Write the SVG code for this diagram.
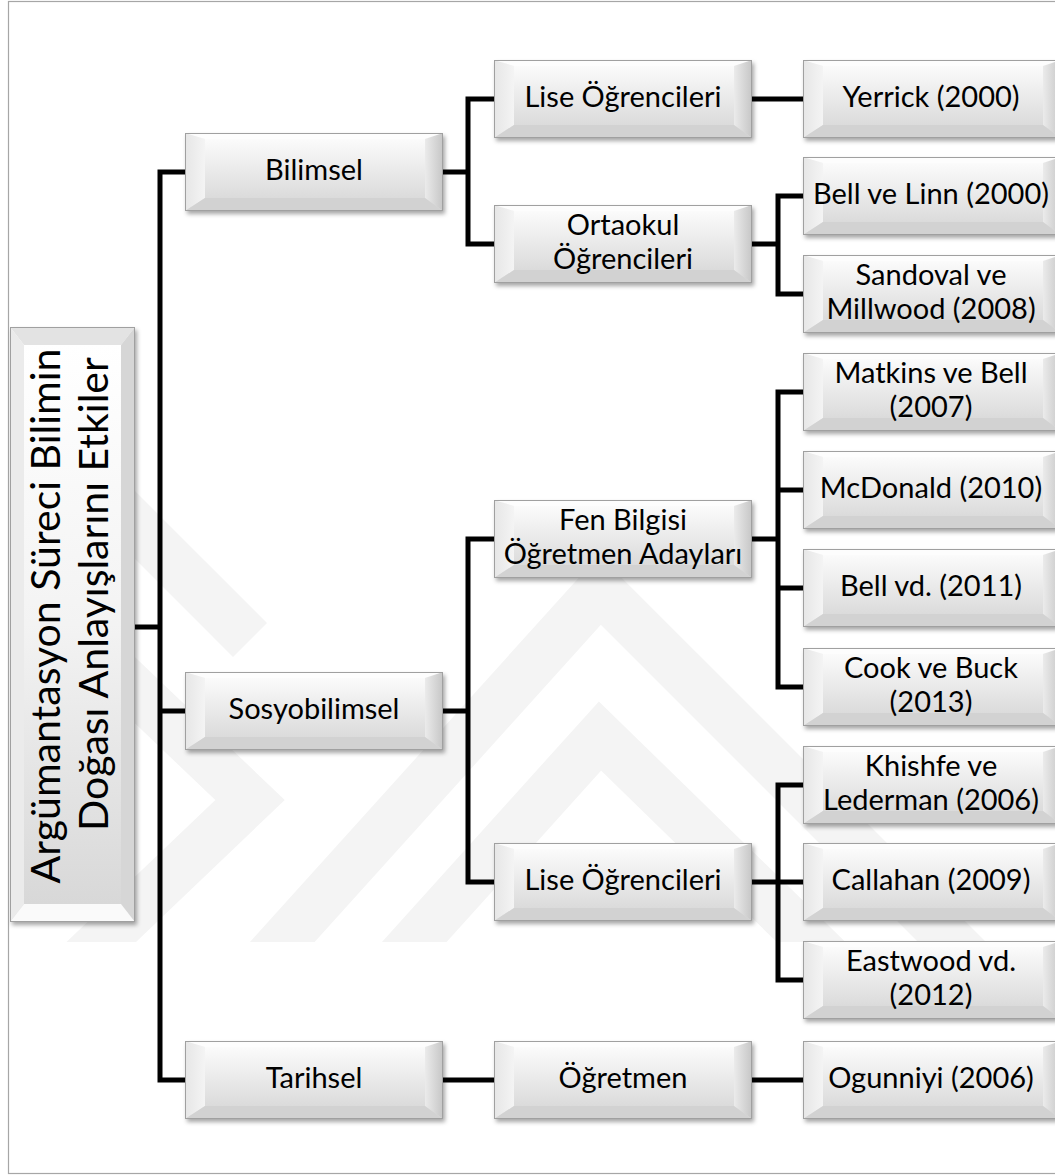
<svg xmlns="http://www.w3.org/2000/svg" xmlns:xlink="http://www.w3.org/1999/xlink" width="1055" height="1175" viewBox="0 0 1055 1175">
  <style>
    .lbl { font-family: Lato, "Open Sans", "DejaVu Sans", sans-serif; font-size: 29px; fill: #000; text-anchor: middle; }
    .root { font-family: Lato, "Open Sans", "DejaVu Sans", sans-serif; font-size: 41px; fill: #000; text-anchor: middle; }
    .wire { fill: none; stroke: #000; stroke-width: 5; stroke-linejoin: miter; stroke-linecap: butt; }
    .mark { fill: none; stroke: #f4f4f4; stroke-width: 48; stroke-linejoin: miter; }
  </style>
  <defs>
    <linearGradient id="face" x1="0" y1="0" x2="0" y2="1">
      <stop offset="0" stop-color="#fbfbfb"/>
      <stop offset="1" stop-color="#dbdbdb"/>
    </linearGradient>
    <linearGradient id="rbev" x1="0" y1="0" x2="1" y2="0">
      <stop offset="0" stop-color="#ebebeb"/>
      <stop offset="1" stop-color="#c6c6c6"/>
    </linearGradient>
    <linearGradient id="lbev" x1="0" y1="0" x2="1" y2="0">
      <stop offset="0" stop-color="#e6e6e6"/>
      <stop offset="1" stop-color="#f4f4f4"/>
    </linearGradient>
    <linearGradient id="rootface" x1="0" y1="0" x2="0" y2="1">
      <stop offset="0" stop-color="#ffffff"/>
      <stop offset="0.5" stop-color="#f3f3f3"/>
      <stop offset="1" stop-color="#d8d8d8"/>
    </linearGradient>
    <filter id="shadow" x="-10%" y="-10%" width="125%" height="130%">
      <feDropShadow dx="2" dy="3" stdDeviation="2" flood-color="#000" flood-opacity="0.35"/>
    </filter>
    <clipPath id="markclip">
      <rect x="10" y="380" width="1000" height="562"/>
    </clipPath>
    <!-- bevelled box, 258 x 78 -->
    <g id="bx">
      <rect x="0" y="0" width="258" height="78" fill="url(#face)" filter="url(#shadow)"/>
      <polygon points="0,0 258,0 240,6 20,6" fill="#fdfdfd"/>
      <polygon points="0,0 20,6 20,65 0,78" fill="url(#lbev)"/>
      <polygon points="258,0 258,78 240,65 240,6" fill="url(#rbev)"/>
      <polygon points="0,78 20,65 240,65 258,78" fill="#d2d2d2"/>
      <rect x="20" y="6" width="220" height="59" fill="url(#face)"/>
      <rect x="0.5" y="0.5" width="257" height="77" fill="none" stroke="#a0a0a0" stroke-width="1"/>
    </g>
  </defs>

  <rect x="0" y="0" width="1055" height="1175" fill="#fff"/>
  <!-- faint background emblem -->
  <g id="emblem" clip-path="url(#markclip)">
    <path class="mark" d="M248 980 L600 590 L990 980"/>
    <path class="mark" d="M380 980 L600 736 L850 980"/>
    <path class="mark" d="M30 590 L250 800 L30 1010"/>
    <path class="mark" d="M30 420 L250 640"/>
  </g>
  <!-- outer frame -->
  <rect x="8.5" y="1.5" width="1100" height="1172" fill="none" stroke="#a6a6a6" stroke-width="1.2"/>

  <!-- connectors -->
  <g id="connectors">
    <path class="wire" d="M135 627 H160"/>
    <path class="wire" d="M185 172 H160 V1080 H185 M160 711 H185"/>
    <path class="wire" d="M443 172 H468 M494 99 H468 V244 H494"/>
    <path class="wire" d="M443 711 H468 M494 539 H468 V882 H494"/>
    <path class="wire" d="M443 1080 H494"/>
    <path class="wire" d="M752 99 H803"/>
    <path class="wire" d="M752 244 H778 M803 196 H778 V294 H803"/>
    <path class="wire" d="M752 539 H778 M803 392 H778 V687 H803 M778 490 H803 M778 588 H803"/>
    <path class="wire" d="M752 882 H803 M803 785 H778 V980 H803"/>
    <path class="wire" d="M752 1080 H803"/>
  </g>

  <!-- root -->
  <g id="root">
    <rect x="10" y="327" width="125" height="595" fill="url(#rootface)" filter="url(#shadow)"/>
    <polygon points="10,327 135,327 121,345 24,345" fill="#e3e3e3"/>
    <polygon points="10,327 24,345 24,904 10,922" fill="#ebebeb"/>
    <polygon points="135,327 135,922 121,904 121,345" fill="#d6d6d6"/>
    <polygon points="10,922 24,904 121,904 135,922" fill="#fafafa"/>
    <rect x="24" y="345" width="97" height="559" fill="url(#rootface)"/>
    <rect x="10.5" y="327.5" width="124" height="594" fill="none" stroke="#a0a0a0"/>
    <text class="root" transform="translate(60 616) rotate(-90)">Argümantasyon Süreci Bilimin</text>
    <text class="root" transform="translate(108 594) rotate(-90)">Doğası Anlayışlarını Etkiler</text>
  </g>

  <!-- level 1 -->
  <g id="bilimsel"><use href="#bx" x="185" y="133"/><text class="lbl" x="314" y="180">Bilimsel</text></g>
  <g id="sosyobilimsel"><use href="#bx" x="185" y="672"/><text class="lbl" x="314" y="719">Sosyobilimsel</text></g>
  <g id="tarihsel"><use href="#bx" x="185" y="1041"/><text class="lbl" x="314" y="1088">Tarihsel</text></g>

  <!-- level 2 -->
  <g id="lise-1"><use href="#bx" x="494" y="60"/><text class="lbl" x="623" y="107">Lise Öğrencileri</text></g>
  <g id="ortaokul"><use href="#bx" x="494" y="205"/><text class="lbl" x="623" y="235">Ortaokul</text><text class="lbl" x="623" y="269">Öğrencileri</text></g>
  <g id="fen-bilgisi"><use href="#bx" x="494" y="500"/><text class="lbl" x="623" y="530">Fen Bilgisi</text><text class="lbl" x="623" y="564">Öğretmen Adayları</text></g>
  <g id="lise-2"><use href="#bx" x="494" y="843"/><text class="lbl" x="623" y="890">Lise Öğrencileri</text></g>
  <g id="ogretmen"><use href="#bx" x="494" y="1041"/><text class="lbl" x="623" y="1088">Öğretmen</text></g>

  <!-- level 3 -->
  <g id="yerrick"><use href="#bx" x="803" y="60"/><text class="lbl" x="931" y="107">Yerrick (2000)</text></g>
  <g id="bell-linn"><use href="#bx" x="803" y="157"/><text class="lbl" x="931" y="204">Bell ve Linn (2000)</text></g>
  <g id="sandoval"><use href="#bx" x="803" y="255"/><text class="lbl" x="931" y="285">Sandoval ve</text><text class="lbl" x="931" y="319">Millwood (2008)</text></g>
  <g id="matkins"><use href="#bx" x="803" y="353"/><text class="lbl" x="931" y="383">Matkins ve Bell</text><text class="lbl" x="931" y="417">(2007)</text></g>
  <g id="mcdonald"><use href="#bx" x="803" y="451"/><text class="lbl" x="931" y="498">McDonald (2010)</text></g>
  <g id="bell-vd"><use href="#bx" x="803" y="549"/><text class="lbl" x="931" y="596">Bell vd. (2011)</text></g>
  <g id="cook"><use href="#bx" x="803" y="648"/><text class="lbl" x="931" y="678">Cook ve Buck</text><text class="lbl" x="931" y="712">(2013)</text></g>
  <g id="khishfe"><use href="#bx" x="803" y="746"/><text class="lbl" x="931" y="776">Khishfe ve</text><text class="lbl" x="931" y="810">Lederman (2006)</text></g>
  <g id="callahan"><use href="#bx" x="803" y="843"/><text class="lbl" x="931" y="890">Callahan (2009)</text></g>
  <g id="eastwood"><use href="#bx" x="803" y="941"/><text class="lbl" x="931" y="971">Eastwood vd.</text><text class="lbl" x="931" y="1005">(2012)</text></g>
  <g id="ogunniyi"><use href="#bx" x="803" y="1041"/><text class="lbl" x="931" y="1088">Ogunniyi (2006)</text></g>
</svg>
